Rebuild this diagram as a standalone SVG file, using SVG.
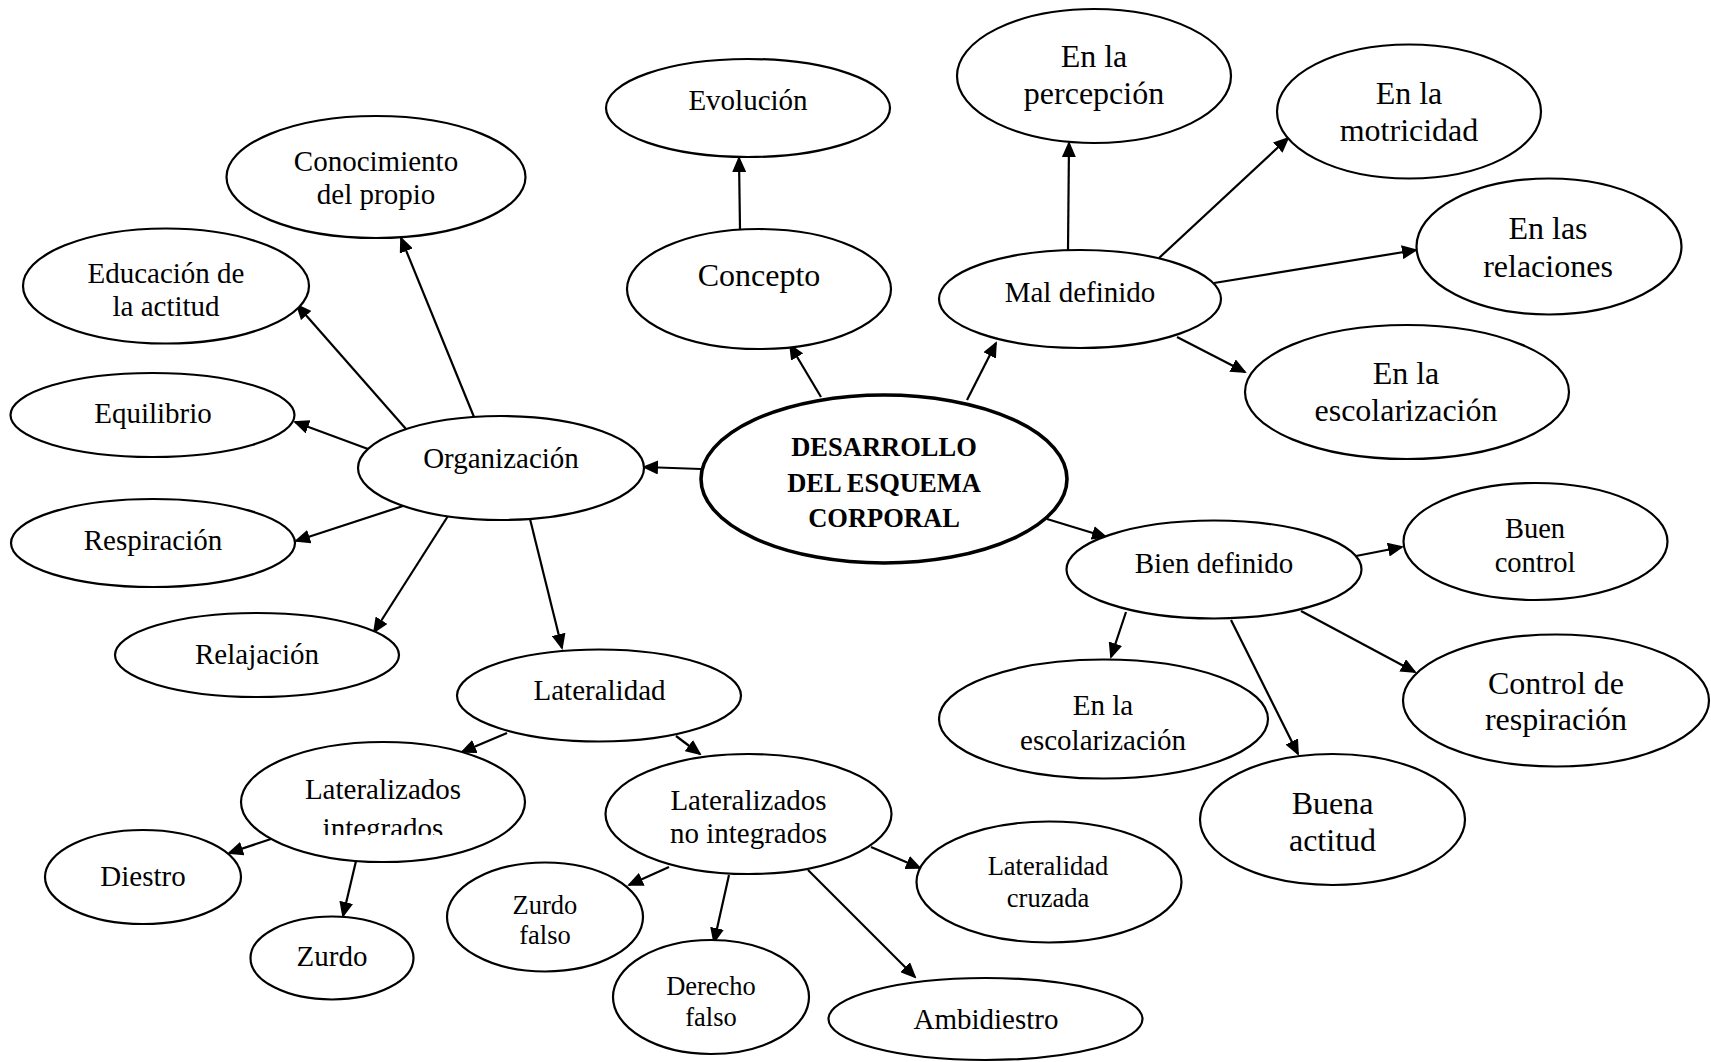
<svg xmlns="http://www.w3.org/2000/svg" width="1711" height="1062" viewBox="0 0 1711 1062">
<style>
.n ellipse{fill:#fff;stroke:#000;stroke-width:2.2}
.c ellipse{stroke-width:3.6}
text{font-family:"Liberation Serif","Times New Roman",serif;font-size:29px;text-anchor:middle;fill:#000}
.b{font-size:32px}
.s{font-size:26.5px}
.m{font-size:28.5px}
.c text{font-weight:bold;font-size:26.5px}
#edges path{stroke:#000;stroke-width:2.2;fill:none;marker-end:url(#ah)}
</style>
<defs>
<marker id="ah" viewBox="0 0 16 14" refX="14" refY="7" markerWidth="16" markerHeight="14" orient="auto" markerUnits="userSpaceOnUse"><path d="M0,0 L16,7 L0,14 Z" fill="#000"/></marker>
<clipPath id="clipInt"><rect x="240" y="700" width="290" height="135"/></clipPath>
</defs>
<rect width="1711" height="1062" fill="#fff"/>
<g id="edges">
<path d="M701,469 L644,467"/>
<path d="M821,397 L790,345"/>
<path d="M967,400 L996,343"/>
<path d="M1047,519 L1106,537"/>
<path d="M740,229 L739,158"/>
<path d="M1068,250 L1069,143"/>
<path d="M1159,258 L1288,138"/>
<path d="M1214,283 L1416,250"/>
<path d="M1177,337 L1245,372"/>
<path d="M474,417 L401,238"/>
<path d="M406,429 L297,305"/>
<path d="M368,449 L295,422"/>
<path d="M403,506 L296,541"/>
<path d="M448,516 L374,632"/>
<path d="M530,519 L562,648"/>
<path d="M507,733 L462,752"/>
<path d="M676,736 L700,754"/>
<path d="M271,839 L229,853"/>
<path d="M356,861 L343,916"/>
<path d="M669,867 L629,885"/>
<path d="M729,875 L714,942"/>
<path d="M808,870 L915,977"/>
<path d="M871,847 L920,868"/>
<path d="M1356,556 L1402,547"/>
<path d="M1126,612 L1111,657"/>
<path d="M1231,620 L1298,754"/>
<path d="M1301,611 L1415,672"/>
</g>
<g id="n-central" class="n c"><ellipse cx="884" cy="479" rx="183" ry="84"/><text x="884" y="456">DESARROLLO</text><text x="884" y="492">DEL ESQUEMA</text><text x="884" y="527">CORPORAL</text></g>
<g id="n-evolucion" class="n"><ellipse cx="748" cy="108" rx="142" ry="49"/><text x="748" y="110">Evolución</text></g>
<g id="n-concepto" class="n"><ellipse cx="759" cy="289" rx="132" ry="60"/><text class="b" x="759" y="286">Concepto</text></g>
<g id="n-percepcion" class="n"><ellipse cx="1094" cy="76" rx="137" ry="67"/><text class="b" x="1094" y="67">En la</text><text class="b" x="1094" y="104">percepción</text></g>
<g id="n-maldefinido" class="n"><ellipse cx="1080" cy="299" rx="141" ry="49"/><text x="1080" y="302">Mal definido</text></g>
<g id="n-motricidad" class="n"><ellipse cx="1409" cy="111.5" rx="132" ry="67"/><text class="b" x="1409" y="104">En la</text><text class="b" x="1409" y="141">motricidad</text></g>
<g id="n-relaciones" class="n"><ellipse cx="1549" cy="246.5" rx="132.5" ry="68"/><text class="b" x="1548" y="239">En las</text><text class="b" x="1548" y="277">relaciones</text></g>
<g id="n-escolar1" class="n"><ellipse cx="1407" cy="392" rx="162" ry="67"/><text class="b" x="1406" y="384">En la</text><text class="b" x="1406" y="421">escolarización</text></g>
<g id="n-conocimiento" class="n"><ellipse cx="376" cy="177" rx="149.5" ry="61"/><text x="376" y="171">Conocimiento</text><text x="376" y="204">del propio</text></g>
<g id="n-educacion" class="n"><ellipse cx="166" cy="286" rx="143" ry="57.5"/><text x="166" y="283">Educación de</text><text x="166" y="316">la actitud</text></g>
<g id="n-equilibrio" class="n"><ellipse cx="152.5" cy="415" rx="142" ry="42"/><text x="153" y="423">Equilibrio</text></g>
<g id="n-organizacion" class="n"><ellipse cx="501" cy="468" rx="143" ry="52"/><text x="501" y="468">Organización</text></g>
<g id="n-respiracion" class="n"><ellipse cx="153" cy="543" rx="142" ry="44"/><text x="153" y="550">Respiración</text></g>
<g id="n-relajacion" class="n"><ellipse cx="257" cy="655" rx="142" ry="42"/><text x="257" y="664">Relajación</text></g>
<g id="n-lateralidad" class="n"><ellipse cx="599" cy="695.5" rx="142" ry="46"/><text x="599.5" y="700">Lateralidad</text></g>
<g id="n-latint" class="n"><ellipse cx="383" cy="802" rx="142" ry="60"/><text x="383" y="799">Lateralizados</text><text x="383" y="838" clip-path="url(#clipInt)">integrados</text></g>
<g id="n-diestro" class="n"><ellipse cx="143" cy="877" rx="98" ry="47"/><text x="143" y="886">Diestro</text></g>
<g id="n-zurdo" class="n"><ellipse cx="332" cy="958" rx="81.5" ry="41.5"/><text x="332" y="966">Zurdo</text></g>
<g id="n-latnoint" class="n"><ellipse cx="748.5" cy="814" rx="143" ry="60"/><text x="748.5" y="810">Lateralizados</text><text x="748.5" y="843">no integrados</text></g>
<g id="n-zurdofalso" class="n"><ellipse cx="545" cy="917" rx="98" ry="54.5"/><text class="s" x="545" y="914">Zurdo</text><text class="s" x="545" y="944">falso</text></g>
<g id="n-derechofalso" class="n"><ellipse cx="711" cy="997" rx="98" ry="57"/><text class="s" x="711" y="995">Derecho</text><text class="s" x="711" y="1026">falso</text></g>
<g id="n-ambidiestro" class="n"><ellipse cx="985.5" cy="1019" rx="157" ry="41"/><text x="986" y="1029">Ambidiestro</text></g>
<g id="n-latcruzada" class="n"><ellipse cx="1049" cy="882" rx="132.5" ry="60.5"/><text class="s" x="1048" y="875">Lateralidad</text><text class="s" x="1048" y="907">cruzada</text></g>
<g id="n-biendefinido" class="n"><ellipse cx="1214" cy="569.5" rx="147.5" ry="49"/><text x="1214" y="573">Bien definido</text></g>
<g id="n-buencontrol" class="n"><ellipse cx="1535.5" cy="541.5" rx="132" ry="58.5"/><text class="m" x="1535" y="538">Buen</text><text class="m" x="1535" y="572">control</text></g>
<g id="n-escolar2" class="n"><ellipse cx="1103.5" cy="719" rx="164.5" ry="59.5"/><text x="1103" y="715">En la</text><text x="1103" y="750">escolarización</text></g>
<g id="n-buenaactitud" class="n"><ellipse cx="1332.5" cy="819.5" rx="132.5" ry="65.5"/><text class="b" x="1332.5" y="814">Buena</text><text class="b" x="1332.5" y="851">actitud</text></g>
<g id="n-controlresp" class="n"><ellipse cx="1556" cy="700.5" rx="153" ry="66"/><text class="b" x="1556" y="694">Control de</text><text class="b" x="1556" y="730">respiración</text></g>
</svg>
